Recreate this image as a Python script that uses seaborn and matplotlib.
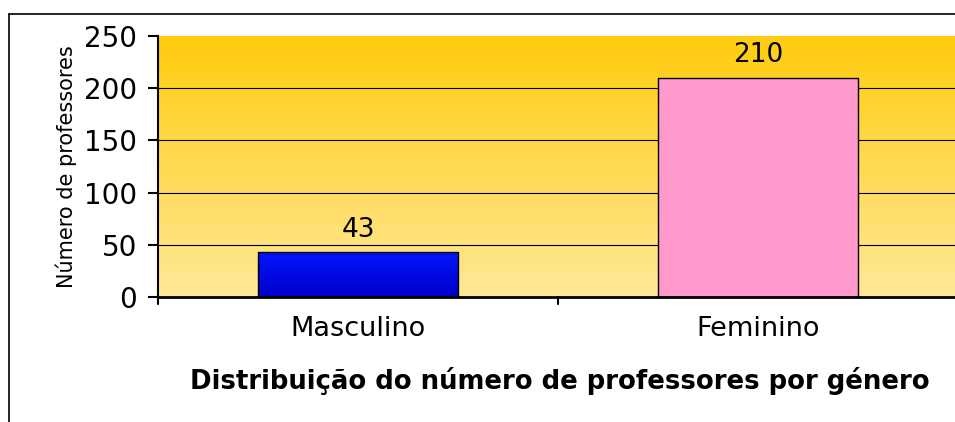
import numpy as np
import pandas as pd
import matplotlib
matplotlib.use("Agg")
import matplotlib.pyplot as plt
import seaborn as sns
from matplotlib.colors import LinearSegmentedColormap
from matplotlib.lines import Line2D

categories = ["Masculino", "Feminino"]
values = [43, 210]
bar_colors = ["#0008F0", "#FF99CC"]
yticks = [0, 50, 100, 150, 200, 250]
title = "Distribuição do número de professores por género"
ylabel = "Número de professores"

sns.set_theme(style="white")
plt.rcParams["font.family"] = ["DejaVu Sans"]
plt.rcParams["text.color"] = "black"
plt.rcParams["axes.labelcolor"] = "black"
plt.rcParams["xtick.color"] = "black"
plt.rcParams["ytick.color"] = "black"

W, H = 955, 422
fig = plt.figure(figsize=(W / 100, H / 100), dpi=100)
fig.patch.set_facecolor("white")

# outer border (left and top)
fig.add_artist(Line2D([8.5 / W, 8.5 / W], [0, 1 - 13.5 / H], color="black", lw=1.2))
fig.add_artist(Line2D([8.5 / W, 1.0], [1 - 13.5 / H, 1 - 13.5 / H], color="black", lw=1.2))

left, right, top, bottom = 158, 958, 36, 297
ax = fig.add_axes([left / W, 1 - bottom / H, (right - left) / W, (bottom - top) / H])

df = pd.DataFrame({"categoria": categories, "valor": values})
sns.barplot(data=df, x="categoria", y="valor", hue="categoria", palette=bar_colors,
            saturation=1, width=0.5, edgecolor="black", linewidth=1.0, legend=False,
            ax=ax, zorder=3)

# gradient background
cmap = LinearSegmentedColormap.from_list("bg", ["#FFE898", "#FFCC0E"])
grad = np.linspace(0, 1, 256).reshape(-1, 1)
ax.imshow(grad, extent=(-0.5, 1.5, 0, 250), origin="lower", aspect="auto",
          cmap=cmap, zorder=0)

# gradient fill for the blue bar
blue_patch = ax.patches[0]
bx, by = blue_patch.get_x(), blue_patch.get_y()
bw, bh = blue_patch.get_width(), blue_patch.get_height()
bcmap = LinearSegmentedColormap.from_list("bb", ["#0000C8", "#0414FF"])
im = ax.imshow(grad, extent=(bx, bx + bw, by, by + bh), origin="lower", aspect="auto",
               cmap=bcmap, zorder=3.5)
im.set_clip_path(blue_patch)
blue_patch.set_zorder(3.6)
blue_patch.set_facecolor("none")

ax.set_xlim(-0.5, 1.5)
ax.set_ylim(0, 250)

for y in yticks[1:-1]:
    ax.axhline(y, color="black", lw=0.8, zorder=1)

for i, v in enumerate(values):
    ax.text(i, v + 9, str(v), ha="center", va="bottom", fontsize=19, color="black", zorder=4)

ax.set_yticks(yticks)
ax.set_yticklabels([str(t) for t in yticks], fontsize=20)
ax.set_xticks([0, 1])
ax.set_xticklabels(categories, fontsize=19.5)
ax.tick_params(axis="x", length=0, pad=14)
ax.tick_params(axis="y", length=7, width=1.5, color="black", direction="out", pad=8, left=True)
# category separator ticks
for xb in [-0.5, 0.5, 1.5]:
    ax.plot([xb, xb], [0, -7 / 1.044], color="black", lw=1.5, clip_on=False, zorder=5)

for s in ["top", "right"]:
    ax.spines[s].set_visible(False)
ax.spines["left"].set_color("black")
ax.spines["left"].set_linewidth(1.5)
ax.spines["bottom"].set_color("black")
ax.spines["bottom"].set_linewidth(2.0)
ax.spines["left"].set_zorder(6)
ax.spines["bottom"].set_zorder(6)

ax.set_xlabel("")
ax.set_ylabel(ylabel, fontsize=15, labelpad=5)

fig.text(560 / W, 1 - 381 / H, title, ha="center", va="center", fontsize=18.7,
         fontweight="bold", color="black")

fig.savefig("out.png", dpi=100)
